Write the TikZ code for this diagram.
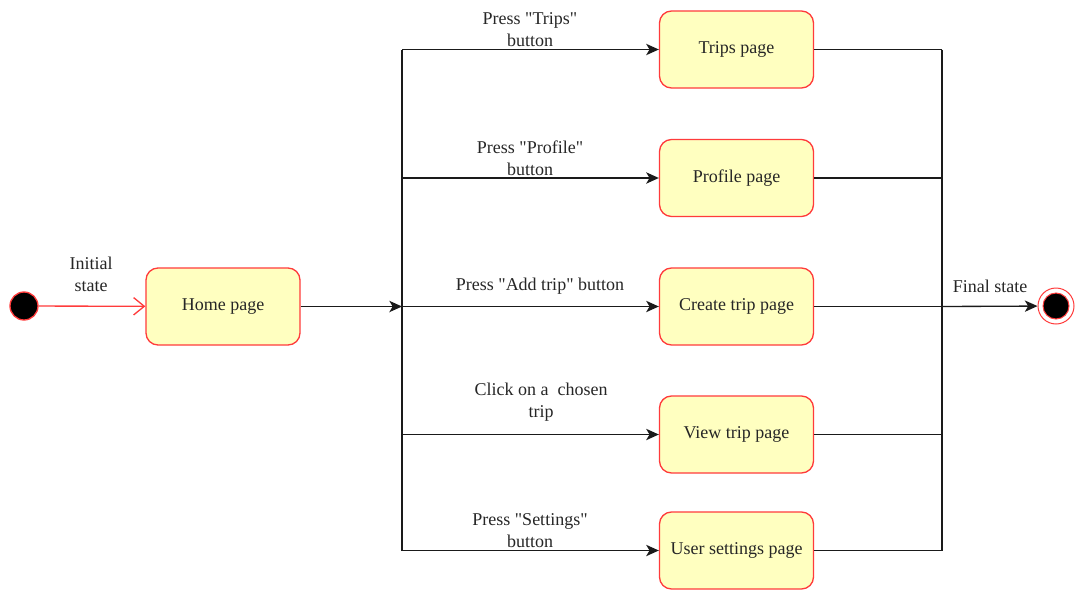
\documentclass[tikz,border=0pt]{standalone}
\usepackage{fontspec}
\setmainfont[Ligatures=NoCommon]{Liberation Serif}
\usetikzlibrary{arrows.meta}
\definecolor{stfill}{HTML}{FFFFC0}
\definecolor{ststroke}{HTML}{FF3B3B}
\definecolor{ln}{HTML}{1A1A1A}
\newcommand{\qq}{\textquotedbl}
\begin{document}
\begin{tikzpicture}[x=0.75pt,y=-0.75pt,
  state/.style={draw=ststroke, fill=stfill, line width=1pt, rounded corners=9pt,
    minimum width=115.5pt, minimum height=57.75pt, inner sep=0pt,
    font=\fontsize{13.5}{16.5}\selectfont, text=black!85},
  lbl/.style={inner sep=0pt, align=center, font=\fontsize{13.5}{16.5}\selectfont, text=black!85},
  conn/.style={draw=ln, line width=1pt},
  arr/.style={conn, -{Stealth[length=9.5pt,width=8.5pt,inset=2.5pt]}}]
\useasboundingbox (0,0) rectangle (1080,589);
% states
\node[state] (home) at (223,306.5) {Home page};
\node[state] (trips) at (736.5,49.5) {Trips page};
\node[state] (profile) at (736.5,178) {Profile page};
\node[state] (create) at (736.5,306.5) {Create trip page};
\node[state] (view) at (736.5,434.5) {View trip page};
\node[state] (settings) at (736.5,550.5) {User settings page};
% initial and final
\node[circle, fill=black, draw=ststroke, line width=1pt, minimum size=21pt, inner sep=0pt] (init) at (24,306) {};
\node[circle, draw=ststroke, fill=white, line width=0.75pt, minimum size=27pt, inner sep=0pt] (fin) at (1056,306) {};
\node[circle, fill=black, draw=ststroke, line width=0.75pt, minimum size=19.5pt, inner sep=0pt] (fincore) at (fin) {};
% junction coordinates
\coordinate (j1) at (402,49.5);
\coordinate (j2) at (402,178);
\coordinate (j3) at (402,306.5);
\coordinate (j4) at (402,434.5);
\coordinate (j5) at (402,550.5);
\coordinate (k1) at (942,49.5);
\coordinate (k2) at (942,178);
\coordinate (k3) at (942,306.5);
\coordinate (k4) at (942,434.5);
\coordinate (k5) at (942,550.5);
% connectors
\draw[draw=ststroke, line width=1pt, -{Straight Barb[length=8pt,width=13pt]}] (init) -- (home);
\draw[arr] (home) -- (j3);
\draw[conn] (j1) -- (j5);
\draw[arr] (j1) -- (trips.west);
\draw[arr] (j2) -- (profile.west);
\draw[arr] (j3) -- (create.west);
\draw[arr] (j4) -- (view.west);
\draw[arr] (j5) -- (settings.west);
\draw[conn] (trips.east) -- (k1);
\draw[conn] (profile.east) -- (k2);
\draw[conn] (create.east) -- (k3);
\draw[conn] (view.east) -- (k4);
\draw[conn] (settings.east) -- (k5);
\draw[conn] (k1) -- (k5);
\draw[arr] (k3) -- (fin);
% labels
\node[lbl] (linit) at (91,274) {Initial\\state};
\node[lbl] (ltrips) at (530,30) {Press \qq Trips\qq\\button};
\node[lbl] (lprofile) at (530,158) {Press \qq Profile\qq\\button};
\node[lbl] (ladd) at (540,286) {Press \qq Add trip\qq{} button};
\node[lbl] (lclick) at (541,402) {Click on a~ chosen\\trip};
\node[lbl] (lsettings) at (530,531) {Press \qq Settings\qq\\button};
\node[lbl] (lfinal) at (990,286) {Final state};
\end{tikzpicture}
\end{document}
